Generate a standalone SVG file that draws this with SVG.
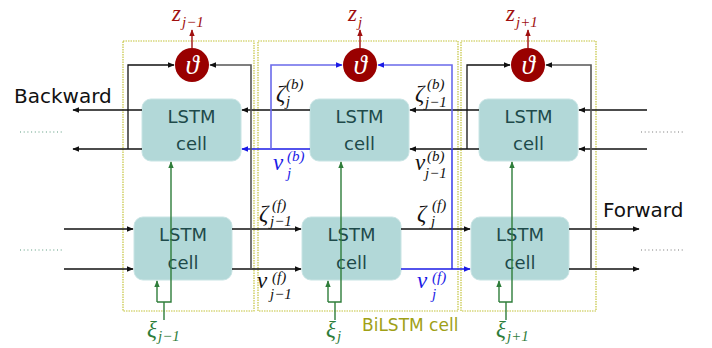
<svg xmlns="http://www.w3.org/2000/svg" width="712" height="348" viewBox="0 0 712 348">
<style>
.box{fill:none;stroke:#c4c43c;stroke-width:1.2;stroke-dasharray:1.5 1}
.cell{fill:#b2d8d8;stroke:#c8e4e4;stroke-width:1}
.ct{font-family:"DejaVu Sans",sans-serif;font-size:18px;fill:#1e4a4a;text-anchor:middle}
.circ{fill:#990000}
.th{font-family:"Liberation Serif",serif;font-style:italic;font-size:27px;fill:#fff;text-anchor:middle}
.k{fill:none;stroke:#111;stroke-width:1.3}
.g{fill:none;stroke:#555;stroke-width:1.6}
.b{fill:none;stroke:#1a1ae6;stroke-width:1.3}
.lb{fill:none;stroke:#6a6aea;stroke-width:1.6}
.gr{fill:none;stroke:#2e7d3a;stroke-width:1.4}
.rd{fill:none;stroke:#a01010;stroke-width:1.4}
.dots{fill:none;stroke-width:1.2;stroke-dasharray:1 2.7}
.m{font-family:"Liberation Serif",serif;font-style:italic;font-size:23px}
.s{font-family:"Liberation Serif",serif;font-style:italic;font-size:15px}
.lab{font-family:"DejaVu Sans",sans-serif;font-size:20px;fill:#111}
</style>
<defs>
<marker id="ak" viewBox="0 0 10 10" refX="9" refY="5" markerWidth="7" markerHeight="7" markerUnits="userSpaceOnUse" orient="auto"><path d="M0,1 L10,5 L0,9 z" fill="#111"/></marker>
<marker id="ab" viewBox="0 0 10 10" refX="9" refY="5" markerWidth="7" markerHeight="7" markerUnits="userSpaceOnUse" orient="auto"><path d="M0,1 L10,5 L0,9 z" fill="#1a1ae6"/></marker>
<marker id="ag" viewBox="0 0 10 10" refX="9" refY="5" markerWidth="7" markerHeight="7" markerUnits="userSpaceOnUse" orient="auto"><path d="M0,1 L10,5 L0,9 z" fill="#2e7d3a"/></marker>
<marker id="ar" viewBox="0 0 10 10" refX="9" refY="5" markerWidth="7" markerHeight="7" markerUnits="userSpaceOnUse" orient="auto"><path d="M0,1 L10,5 L0,9 z" fill="#a01010"/></marker>
</defs>

<g id="bilstm-boxes">
<rect class="box" x="123" y="41" width="131" height="270"/>
<rect class="box" x="258" y="41" width="200" height="270"/>
<rect class="box" x="461" y="41" width="135" height="270"/>
</g>

<g id="bwd-cell-1"><rect class="cell" x="142" y="99" width="99" height="62" rx="9"/><text class="ct" x="191.5" y="123">LSTM</text><text class="ct" x="191.5" y="150">cell</text></g>
<g id="bwd-cell-2"><rect class="cell" x="310" y="99" width="99" height="62" rx="9"/><text class="ct" x="359.5" y="123">LSTM</text><text class="ct" x="359.5" y="150">cell</text></g>
<g id="bwd-cell-3"><rect class="cell" x="479" y="99" width="99" height="62" rx="9"/><text class="ct" x="528.5" y="123">LSTM</text><text class="ct" x="528.5" y="150">cell</text></g>
<g id="fwd-cell-1"><rect class="cell" x="134" y="217" width="98" height="63" rx="9"/><text class="ct" x="183" y="241">LSTM</text><text class="ct" x="183" y="269">cell</text></g>
<g id="fwd-cell-2"><rect class="cell" x="302" y="217" width="99" height="63" rx="9"/><text class="ct" x="351.5" y="241">LSTM</text><text class="ct" x="351.5" y="269">cell</text></g>
<g id="fwd-cell-3"><rect class="cell" x="471" y="217" width="98" height="63" rx="9"/><text class="ct" x="520" y="241">LSTM</text><text class="ct" x="520" y="269">cell</text></g>

<g id="theta-1"><circle class="circ" cx="192" cy="65" r="17"/><text class="th" x="192" y="74">ϑ</text></g>
<g id="theta-2"><circle class="circ" cx="360" cy="65" r="17"/><text class="th" x="360" y="74">ϑ</text></g>
<g id="theta-3"><circle class="circ" cx="528" cy="65" r="17"/><text class="th" x="528" y="74">ϑ</text></g>

<g id="connectors">
<line class="k" x1="647" y1="110" x2="579" y2="110" marker-end="url(#ak)"/>
<line class="k" x1="647" y1="149" x2="579" y2="149" marker-end="url(#ak)"/>
<line class="k" x1="479" y1="110" x2="410" y2="110" marker-end="url(#ak)"/>
<line class="k" x1="479" y1="149" x2="410" y2="149" marker-end="url(#ak)"/>
<line class="k" x1="310" y1="110" x2="242" y2="110" marker-end="url(#ak)"/>
<line class="b" x1="310" y1="149" x2="242" y2="149" marker-end="url(#ab)"/>
<line class="k" x1="142" y1="110" x2="73" y2="110" marker-end="url(#ak)"/>
<line class="k" x1="142" y1="149" x2="73" y2="149" marker-end="url(#ak)"/>
<polyline class="k" points="128,149 128,65 174,65" marker-end="url(#ak)"/>
<polyline class="lb" points="271,149 271,65 342,65" marker-end="url(#ab)"/>
<polyline class="k" points="467,149 467,65 510,65" marker-end="url(#ak)"/>
<line class="k" x1="64" y1="229" x2="133" y2="229" marker-end="url(#ak)"/>
<line class="k" x1="64" y1="269" x2="133" y2="269" marker-end="url(#ak)"/>
<line class="k" x1="232" y1="229" x2="301" y2="229" marker-end="url(#ak)"/>
<line class="k" x1="232" y1="269" x2="301" y2="269" marker-end="url(#ak)"/>
<line class="k" x1="401" y1="229" x2="470" y2="229" marker-end="url(#ak)"/>
<line class="b" x1="401" y1="269" x2="470" y2="269" marker-end="url(#ab)"/>
<line class="k" x1="569" y1="229" x2="639" y2="229" marker-end="url(#ak)"/>
<line class="k" x1="569" y1="269" x2="639" y2="269" marker-end="url(#ak)"/>
<polyline class="g" points="251,269 251,65 210,65" marker-end="url(#ak)"/>
<polyline class="lb" points="452,150 452,65 378,65" marker-end="url(#ab)"/>
<line class="b" x1="452" y1="269" x2="452" y2="149"/>
<polyline class="g" points="591,269 591,65 546,65" marker-end="url(#ak)"/>
<line class="rd" x1="192" y1="48" x2="192" y2="30" marker-end="url(#ar)"/>
<line class="rd" x1="360" y1="48" x2="360" y2="30" marker-end="url(#ar)"/>
<line class="rd" x1="528" y1="48" x2="528" y2="30" marker-end="url(#ar)"/>
<polyline class="gr" points="164,320 164,302"/>
<polyline class="gr" points="157,302 171,302 171,162" marker-end="url(#ag)"/>
<line class="gr" x1="157" y1="302" x2="157" y2="281" marker-end="url(#ag)"/>
<polyline class="gr" points="335,320 335,302"/>
<polyline class="gr" points="328,302 341,302 341,162" marker-end="url(#ag)"/>
<line class="gr" x1="328" y1="302" x2="328" y2="281" marker-end="url(#ag)"/>
<polyline class="gr" points="506,320 506,302"/>
<polyline class="gr" points="499,302 512,302 512,162" marker-end="url(#ag)"/>
<line class="gr" x1="499" y1="302" x2="499" y2="281" marker-end="url(#ag)"/>
</g>

<g id="ellipses">
<line class="dots" x1="20" y1="132" x2="62" y2="132" stroke="#5a9a7e"/>
<line class="dots" x1="20" y1="250" x2="62" y2="250" stroke="#5a9a7e"/>
<line class="dots" x1="641" y1="132" x2="683" y2="132" stroke="#777"/>
<line class="dots" x1="641" y1="250" x2="683" y2="250" stroke="#777"/>
</g>

<g id="labels">
<text class="lab" x="14" y="103">Backward</text>
<text class="lab" x="603" y="217">Forward</text>
<text x="362" y="331" font-family="DejaVu Sans,sans-serif" font-size="17" fill="#a0a016">BiLSTM cell</text>
<g fill="#a01010">
<text class="m" x="172" y="21" font-size="23">z</text><text class="s" x="182" y="27" font-size="17">j−1</text>
<text class="m" x="348" y="21" font-size="23">z</text><text class="s" x="358" y="27" font-size="17">j</text>
<text class="m" x="506" y="21" font-size="23">z</text><text class="s" x="516" y="27" font-size="17">j+1</text>
</g>
<g fill="#111">
<text class="m" x="276" y="101">ζ</text><text class="s" x="286" y="89">(b)</text><text class="s" x="286" y="106">j</text>
<text class="m" x="415" y="101">ζ</text><text class="s" x="427" y="89">(b)</text><text class="s" x="425" y="107">j−1</text>
<text class="m" x="415" y="170">ν</text><text class="s" x="427" y="161">(b)</text><text class="s" x="425" y="178">j−1</text>
<text class="m" x="259" y="221">ζ</text><text class="s" x="272" y="210">(f)</text><text class="s" x="270" y="226">j−1</text>
<text class="m" x="417" y="221">ζ</text><text class="s" x="432" y="210">(f)</text><text class="s" x="431" y="226">j</text>
<text class="m" x="257" y="288">ν</text><text class="s" x="272" y="282">(f)</text><text class="s" x="270" y="299">j−1</text>
</g>
<g fill="#1a1ae6">
<text class="m" x="273" y="170">ν</text><text class="s" x="287" y="161">(b)</text><text class="s" x="287" y="178">j</text>
<text class="m" x="417" y="288">ν</text><text class="s" x="432" y="282">(f)</text><text class="s" x="432" y="299">j</text>
</g>
<g fill="#2e7d3a">
<text class="m" x="147" y="337">ξ</text><text class="s" x="158" y="341">j−1</text>
<text class="m" x="326" y="337">ξ</text><text class="s" x="337" y="341">j</text>
<text class="m" x="496" y="337">ξ</text><text class="s" x="507" y="341">j+1</text>
</g>
</g>
</svg>
